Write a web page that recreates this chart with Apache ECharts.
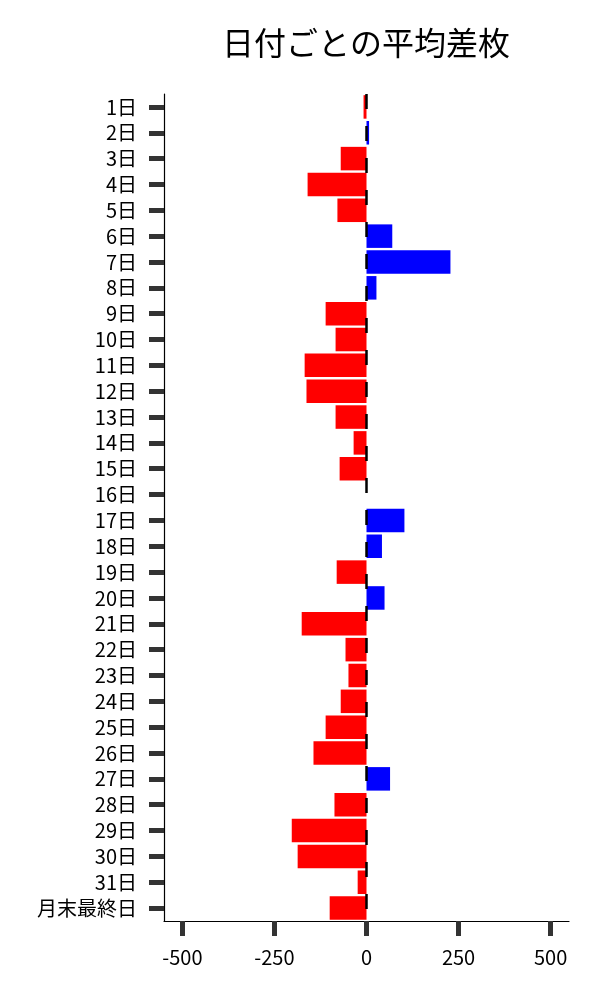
<!DOCTYPE html>
<html>
<head>
<meta charset="utf-8">
<script src="https://cdn.jsdelivr.net/npm/echarts@6/dist/echarts.min.js"></script>
<style>
  html, body { margin: 0; padding: 0; background: #fff; }
  #main { width: 600px; height: 1000px; }
</style>
</head>
<body>
<div id="main"></div>
<script>
var days = ['1日', '2日', '3日', '4日', '5日', '6日', '7日', '8日', '9日', '10日',
    '11日', '12日', '13日', '14日', '15日', '16日', '17日', '18日', '19日', '20日',
    '21日', '22日', '23日', '24日', '25日', '26日', '27日', '28日', '29日', '30日',
    '31日', '月末最終日'];
// 平均差枚
var avgDiff = [-8, 7, -70, -160, -79, 70, 228, 27, -111, -84,
    -168, -163, -84, -35, -73, 0, 103, 42, -81, 49,
    -176, -57, -49, -70, -111, -144, 64, -87, -203, -187,
    -24, -100];
var xTicks = [-500, -250, 0, 250, 500];

var FONT = '"Noto Sans CJK JP", "Noto Sans", sans-serif';
var posColor = '#0000ff',
    negColor = '#ff0000';

var chart = echarts.init(document.getElementById('main'));
chart.setOption({
    animation: false,
    textStyle: { fontFamily: FONT },
    title: {
        text: '日付ごとの平均差枚',
        left: 361,
        top: 22,
        textAlign: 'center',
        textStyle: { fontFamily: FONT, fontSize: 32, fontWeight: 'normal', color: '#000' }
    },
    grid: { left: 164, right: 31, top: 94, bottom: 79, containLabel: false },
    xAxis: {
        type: 'value',
        min: -550,
        max: 550,
        splitLine: { show: false },
        axisLine: { show: true, onZero: false, lineStyle: { color: '#000', width: 1.2 } },
        axisTick: { show: true, customValues: xTicks, length: 15, lineStyle: { color: '#333', width: 5 } },
        axisLabel: { customValues: xTicks, margin: 26, fontSize: 20, color: '#000', fontFamily: FONT }
    },
    yAxis: {
        type: 'category',
        inverse: true,
        data: days,
        axisLine: { show: true, onZero: false, lineStyle: { color: '#000', width: 1.2 } },
        axisTick: { show: true, alignWithLabel: true, length: 15, lineStyle: { color: '#333', width: 5 } },
        axisLabel: { margin: 27, fontSize: 20, color: '#000', fontFamily: FONT, interval: 0 }
    },
    series: [{
        type: 'bar',
        data: avgDiff,
        barCategoryGap: '9%',
        itemStyle: {
            color: function (p) {
                return p.value >= 0 ? posColor : negColor;
            }
        },
        markLine: {
            silent: true,
            symbol: 'none',
            z: 10,
            label: { show: false },
            lineStyle: { color: '#000', width: 2.5, type: [15, 17], dashOffset: 0 },
            data: [{ xAxis: 0 }]
        }
    }]
});
</script>
</body>
</html>
